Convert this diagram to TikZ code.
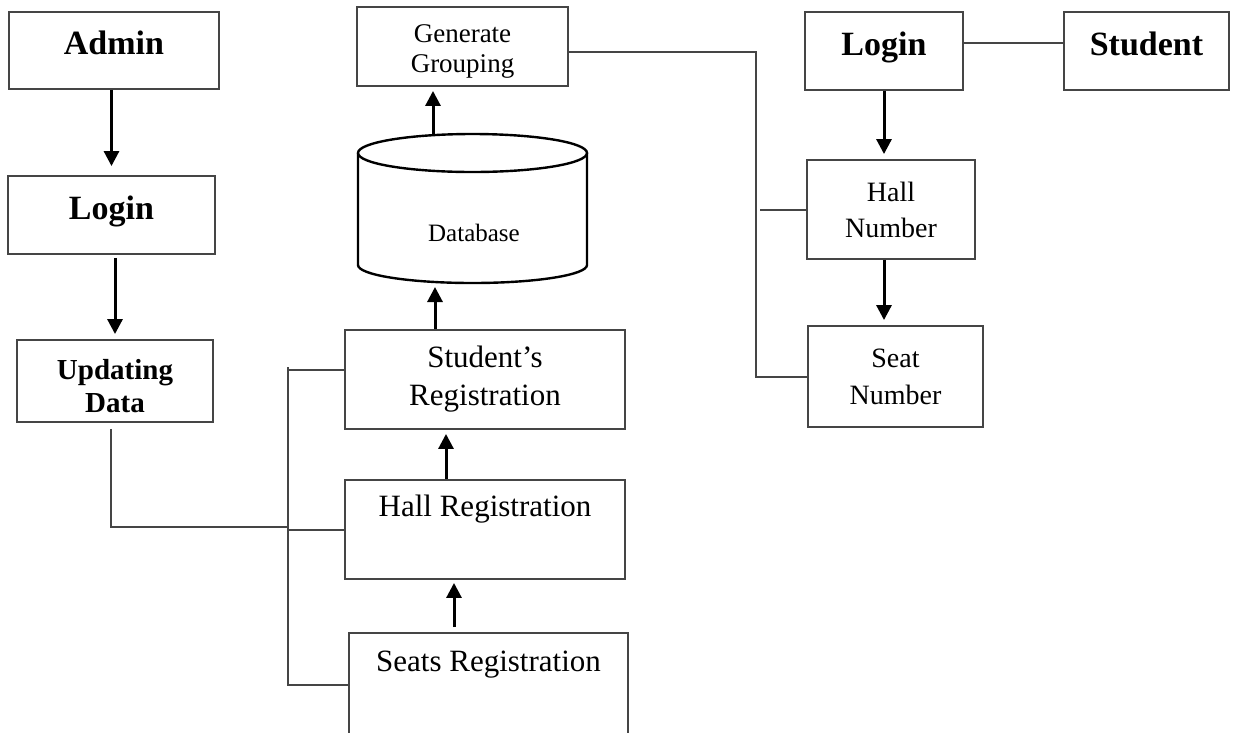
\documentclass[tikz,border=0pt]{standalone}
\usepackage{fontspec}
\setmainfont{Liberation Serif}
\usetikzlibrary{arrows.meta}
\definecolor{boxgray}{HTML}{454545}

\begin{document}
\begin{tikzpicture}[x=1pt,y=-1pt,
        box/.style={draw=boxgray,line width=1.9pt,inner sep=0pt,align=center},
        bold/.style={font=\fontsize{34}{38}\selectfont\bfseries,text height=24pt,text depth=16pt},
        arr/.style={-{Triangle[length=15pt,width=15pt]},line width=3pt,black},
        link/.style={draw=boxgray,line width=2pt}]
\useasboundingbox (0,0) rectangle (1236,732);
% admin side
\node[box,bold,minimum width=210pt,minimum height=77pt] (admin) at (114,50.5) {Admin}; % Admin
\node[box,bold,minimum width=207pt,minimum height=78pt] (loginA) at (111.5,215) {Login}; % Login.0
\node[box,font=\fontsize{29}{33}\selectfont\bfseries,minimum width=196pt,minimum height=82pt] (upd) at (115,381) {\rule{0pt}{30pt}Updating\\Data}; % Update
% registration and database
\node[box,font=\fontsize{27}{30}\selectfont,minimum width=211pt,minimum height=79pt] (gen) at (462.5,46.5) {\rule{0pt}{28pt}Generate\\Grouping}; % Grouping
\node[box,font=\fontsize{31}{38}\selectfont,minimum width=280pt,minimum height=99pt] (stureg) at (485,379.5) {Student's\\Registration}; % Reg.0
\node[box,font=\fontsize{31}{36}\selectfont,minimum width=280pt,minimum height=99pt] (hallreg) at (485,529.5) {Hall Registration\\\strut}; % Reg.1
\node[box,font=\fontsize{31}{36}\selectfont,minimum width=279pt,minimum height=104pt] (seatreg) at (488.5,685) {Seats Registration\\\strut}; % Reg.2
\draw[line width=2.4pt] (358,153) -- (358,265) arc(180:0:114.5 and 18) -- (587,153) ; % Database
\draw[line width=2.4pt] (472.5,153) ellipse (114.5 and 19) ; % Database
\node[font=\fontsize{25}{30}\selectfont] (dbtext) at (474,233) {Database}; % Database
\coordinate (dbin) at (435,283) ; % Database
\coordinate (dbout) at (433,134) ; % Database
% student side
\node[box,bold,minimum width=158pt,minimum height=78pt] (loginB) at (884,51) {Login}; % Login.1
\node[box,bold,minimum width=165pt,minimum height=78pt] (student) at (1146.5,51) {Student}; % Student
\node[box,font=\fontsize{28}{36}\selectfont,minimum width=168pt,minimum height=99pt] (hallnum) at (891,209.5) {Hall\\Number}; % Number.0
\node[box,font=\fontsize{28}{37}\selectfont,minimum width=175pt,minimum height=101pt] (seatnum) at (895.5,376.5) {Seat\\Number}; % Number.1
% arrows
\draw[arr,shorten >=9pt] (loginA.north |- admin.south) -- (loginA.north) ; % Admin.Login
\draw[arr,shorten <=3pt,shorten >=5pt] (upd.north |- loginA.south) -- (upd.north) ; % Login.Update
\draw[arr,shorten >=5pt] (loginB.south) -- (loginB.south |- hallnum.north) ; % Login.Hall
\draw[arr,shorten >=5pt] (loginB.south |- hallnum.south) -- (loginB.south |- seatnum.north) ; % Hall.Seat
\draw[arr,shorten >=4pt] ([xshift=-39pt]hallreg.north) -- ([xshift=-39pt]stureg.south) ; % Reg.1.Reg.0
\draw[arr,shorten <=5pt,shorten >=3pt] ([xshift=-34.5pt]seatreg.north) -- ([xshift=-31pt]hallreg.south) ; % Reg.2.Reg.1
\draw[arr,shorten >=4pt] ([xshift=-50pt]stureg.north) -- (dbin) ; % Reg.0.Database
\draw[arr,shorten >=4pt] (dbout) -- (dbout |- gen.south) ; % Database.Grouping
% plain links
\coordinate (rbus) at (756,52) ;
\coordinate (lbus) at (288,367) ;
\coordinate (lbranch) at (288,370) ;
\coordinate (ljoin) at (288,527) ;
\draw[link] ([yshift=-5.5pt]gen.east) -- (rbus) -- (rbus |- seatnum.west) -- (seatnum.west) ; % Grouping.Number
\draw[link,shorten <=4pt] (rbus |- hallnum.west) -- (hallnum.west) ; % Grouping.Number
\draw[link] ([yshift=8pt]loginB.east) -- ([yshift=8pt]student.west) ; % Login.Student
\draw[link,shorten <=6pt] ([xshift=-4pt]upd.south) |- (ljoin) ; % Update.Reg
\draw[link] (lbus) -- (lbus |- seatreg.west) -- (seatreg.west) ; % Update.Reg
\draw[link] ([yshift=9.5pt]stureg.west) -- (lbranch) ; % Update.Reg
\draw[link] (lbus |- hallreg.west) -- (hallreg.west) ; % Update.Reg
\end{tikzpicture}
\end{document}
